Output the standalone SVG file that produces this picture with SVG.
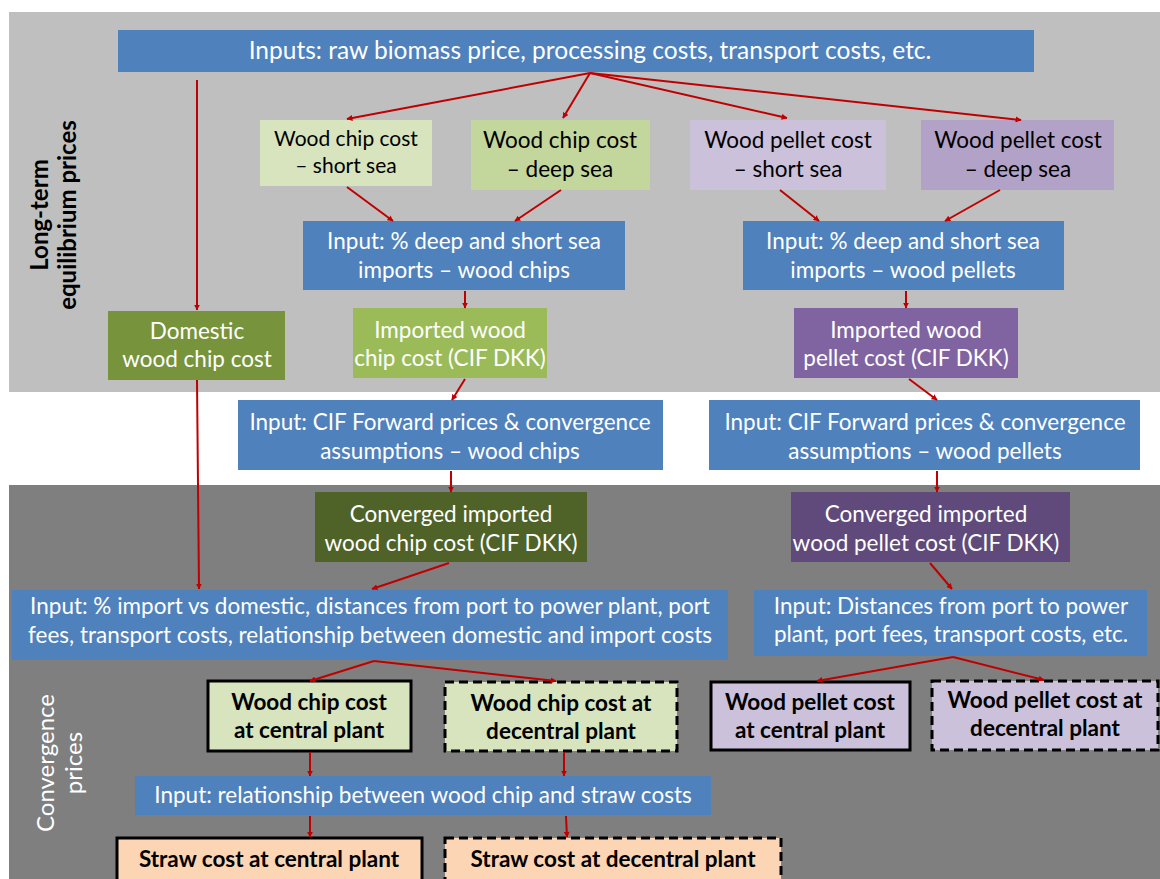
<svg xmlns="http://www.w3.org/2000/svg" width="1160" height="879" viewBox="0 0 1160 879">
<defs>
<style>
.t{font-family:Lato,"Liberation Sans",sans-serif;font-size:22.5px;text-anchor:middle}
.w{fill:#ffffff}
.k{fill:#000000}
.b{font-weight:bold}
.lab{font-size:24px}
.blue{fill:#4f81bd}
.solid{stroke:#000;stroke-width:3}
.dash{stroke:#000;stroke-width:3;stroke-dasharray:9 5}
.c{stroke:#c00000;stroke-width:2;fill:none;marker-end:url(#ah)}
</style>
<marker id="ah" viewBox="0 0 10 10" refX="9" refY="5" markerWidth="6" markerHeight="6" orient="auto" markerUnits="userSpaceOnUse">
<path d="M0,0 L10,5 L0,10 z" fill="#c00000"/>
</marker>
</defs>
<rect x="0" y="0" width="1160" height="879" fill="#ffffff"/>
<rect x="9" y="12" width="1151" height="380" fill="#bfbfbf"/>
<rect x="9" y="485" width="1151" height="394" fill="#7f7f7f"/>
<g id="label-longterm">
<text class="t b k lab" transform="translate(48,215) rotate(-90)">Long-term</text>
<text class="t b k lab" transform="translate(76,215) rotate(-90)">equilibrium prices</text>
</g>
<g id="label-convergence">
<text class="t w lab" transform="translate(54,763) rotate(-90)">Convergence</text>
<text class="t w lab" transform="translate(82,763) rotate(-90)">prices</text>
</g>
<g id="inputs">
<rect class="blue" x="118" y="30" width="916" height="42"/>
<text class="t w" style="font-size:24.5px" x="590" y="59">Inputs: raw biomass price, processing costs, transport costs, etc.</text>
</g>
<g id="chip-short">
<rect x="260" y="120" width="172" height="66" fill="#d7e4bd"/>
<text class="t k" style="font-size:21px" x="346" y="146">Wood chip cost</text>
<text class="t k" style="font-size:21px" x="346" y="173">– short sea</text>
</g>
<g id="chip-deep">
<rect x="471" y="120" width="179" height="70" fill="#c3d69b"/>
<text class="t k" x="560" y="148">Wood chip cost</text>
<text class="t k" x="560" y="177">– deep sea</text>
</g>
<g id="pellet-short">
<rect x="690" y="120" width="196" height="70" fill="#ccc1da"/>
<text class="t k" x="788" y="148">Wood pellet cost</text>
<text class="t k" x="788" y="177">– short sea</text>
</g>
<g id="pellet-deep">
<rect x="921" y="120" width="193" height="70" fill="#b3a2c7"/>
<text class="t k" x="1018" y="148">Wood pellet cost</text>
<text class="t k" x="1018" y="177">– deep sea</text>
</g>
<g id="input-pct-chips">
<rect class="blue" x="303" y="221" width="322" height="69"/>
<text class="t w" x="464" y="249">Input: % deep and short sea</text>
<text class="t w" x="464" y="278">imports – wood chips</text>
</g>
<g id="input-pct-pellets">
<rect class="blue" x="743" y="221" width="321" height="69"/>
<text class="t w" x="903" y="249">Input: % deep and short sea</text>
<text class="t w" x="903" y="278">imports – wood pellets</text>
</g>
<g id="domestic">
<rect x="108" y="311" width="177" height="69" fill="#77933c"/>
<text class="t w" x="197" y="339">Domestic</text>
<text class="t w" x="197" y="367">wood chip cost</text>
</g>
<g id="imported-chip">
<rect x="353" y="308" width="194" height="70" fill="#9bbb59"/>
<text class="t w" x="450" y="338">Imported wood</text>
<text class="t w" x="450" y="366">chip cost (CIF DKK)</text>
</g>
<g id="imported-pellet">
<rect x="794" y="308" width="224" height="70" fill="#8064a2"/>
<text class="t w" x="906" y="338">Imported wood</text>
<text class="t w" x="906" y="366">pellet cost (CIF DKK)</text>
</g>
<g id="cif-chips">
<rect class="blue" x="238" y="400" width="425" height="70"/>
<text class="t w" x="450" y="430">Input: CIF Forward prices &amp; convergence</text>
<text class="t w" x="450" y="459">assumptions – wood chips</text>
</g>
<g id="cif-pellets">
<rect class="blue" x="709" y="400" width="431" height="70"/>
<text class="t w" x="925" y="430">Input: CIF Forward prices &amp; convergence</text>
<text class="t w" x="925" y="459">assumptions – wood pellets</text>
</g>
<g id="conv-chip">
<rect x="315" y="492" width="272" height="70" fill="#4f6228"/>
<text class="t w" x="451" y="522">Converged imported</text>
<text class="t w" x="451" y="551">wood chip cost (CIF DKK)</text>
</g>
<g id="conv-pellet">
<rect x="791" y="492" width="279" height="70" fill="#604a7b"/>
<text class="t w" x="926" y="522">Converged imported</text>
<text class="t w" x="926" y="551">wood pellet cost (CIF DKK)</text>
</g>
<g id="input-import">
<rect class="blue" x="12" y="590" width="716" height="70"/>
<text class="t w" x="370" y="614">Input: % import vs domestic, distances from port to power plant, port</text>
<text class="t w" x="370" y="643">fees, transport costs, relationship between domestic and import costs</text>
</g>
<g id="input-distances">
<rect class="blue" x="754" y="590" width="393" height="66"/>
<text class="t w" x="951" y="614">Input: Distances from port to power</text>
<text class="t w" x="951" y="642">plant, port fees, transport costs, etc.</text>
</g>
<g id="chip-central">
<rect class="solid" x="208" y="681" width="203" height="70" fill="#d7e4bd"/>
<text class="t b k" x="309" y="710">Wood chip cost</text>
<text class="t b k" x="309" y="738">at central plant</text>
</g>
<g id="chip-decentral">
<rect class="dash" x="445" y="682" width="232" height="69" fill="#d7e4bd"/>
<text class="t b k" x="561" y="711">Wood chip cost at</text>
<text class="t b k" x="561" y="739">decentral plant</text>
</g>
<g id="pellet-central">
<rect class="solid" x="711" y="682" width="199" height="68" fill="#ccc1da"/>
<text class="t b k" x="810" y="710">Wood pellet cost</text>
<text class="t b k" x="810" y="738">at central plant</text>
</g>
<g id="pellet-decentral">
<rect class="dash" x="932" y="681" width="226" height="69" fill="#ccc1da"/>
<text class="t b k" x="1045" y="708">Wood pellet cost at</text>
<text class="t b k" x="1045" y="736">decentral plant</text>
</g>
<g id="input-relationship">
<rect class="blue" x="135" y="776" width="576" height="39"/>
<text class="t w" x="423" y="803">Input: relationship between wood chip and straw costs</text>
</g>
<g id="straw-central">
<rect class="solid" x="117" y="838" width="305" height="45" fill="#fcd5b5"/>
<text class="t b k" x="269" y="867">Straw cost at central plant</text>
</g>
<g id="straw-decentral">
<rect class="dash" x="445" y="838" width="336" height="45" fill="#fcd5b5"/>
<text class="t b k" x="613" y="867">Straw cost at decentral plant</text>
</g>
<g id="connectors">
<line class="c" x1="590" y1="73" x2="347" y2="119"/>
<line class="c" x1="590" y1="73" x2="563" y2="118"/>
<line class="c" x1="590" y1="73" x2="787" y2="118"/>
<line class="c" x1="590" y1="73" x2="1021" y2="120"/>
<line class="c" x1="197" y1="80" x2="197" y2="310"/>
<line class="c" x1="347" y1="187" x2="393" y2="221"/>
<line class="c" x1="561" y1="190" x2="515" y2="221"/>
<line class="c" x1="780" y1="190" x2="819" y2="221"/>
<line class="c" x1="1000" y1="190" x2="945" y2="221"/>
<line class="c" x1="465" y1="291" x2="465" y2="308"/>
<line class="c" x1="906" y1="291" x2="906" y2="308"/>
<line class="c" x1="465" y1="379" x2="452" y2="400"/>
<line class="c" x1="909" y1="379" x2="937" y2="400"/>
<line class="c" x1="451" y1="471" x2="451" y2="492"/>
<line class="c" x1="937" y1="471" x2="937" y2="492"/>
<line class="c" x1="197" y1="380" x2="199" y2="589"/>
<line class="c" x1="449" y1="563" x2="372" y2="589"/>
<line class="c" x1="930" y1="563" x2="952" y2="589"/>
<line class="c" x1="374" y1="661" x2="310" y2="681"/>
<line class="c" x1="374" y1="661" x2="556" y2="681"/>
<line class="c" x1="953" y1="657" x2="817" y2="681"/>
<line class="c" x1="953" y1="657" x2="1044" y2="680"/>
<line class="c" x1="310" y1="752" x2="310" y2="776"/>
<line class="c" x1="564" y1="752" x2="564" y2="776"/>
<line class="c" x1="310" y1="816" x2="310" y2="837"/>
<line class="c" x1="566" y1="816" x2="567" y2="837"/>
</g>
</svg>
